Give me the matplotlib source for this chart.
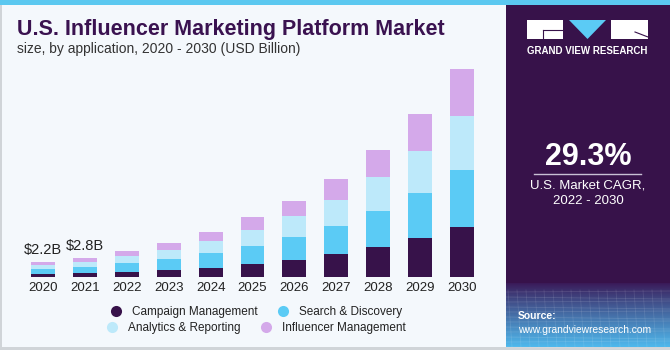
import numpy as np
import matplotlib
matplotlib.use("Agg")
import matplotlib.pyplot as plt
from matplotlib.patches import Rectangle, Polygon
from matplotlib.lines import Line2D

# ---- data (USD Billion) ----
years = ["2020", "2021", "2022", "2023", "2024", "2025", "2026", "2027", "2028", "2029", "2030"]
campaign = [0.40, 0.61, 0.77, 1.02, 1.35, 1.93, 2.47, 3.38, 4.31, 5.61, 7.25]
search = [0.75, 0.81, 1.31, 1.64, 2.18, 2.57, 3.34, 4.06, 5.26, 6.61, 8.27]
analytics = [0.65, 0.81, 0.97, 1.26, 1.70, 2.28, 3.00, 3.77, 4.93, 6.09, 7.87]
influencer = [0.40, 0.57, 0.73, 1.02, 1.35, 1.89, 2.26, 3.05, 3.87, 5.28, 6.73]
series_names = ["Campaign Management", "Search & Discovery", "Analytics & Reporting", "Influencer Management"]
annot_labels = ["$2.2B", "$2.8B"]
cagr_text = "29.3%"

colors = ["#37124A", "#5BCBF5", "#BDE9FA", "#D4A9EA"]
BG = "#F4F8FC"
PURPLE = "#37124A"

W, H = 670, 350
fig = plt.figure(figsize=(W / 100, H / 100), dpi=100)
fig.patch.set_facecolor(BG)

# ---- decoration layer in pixel coordinates ----
deco = fig.add_axes([0, 0, 1, 1], zorder=0)
deco.set_xlim(0, W)
deco.set_ylim(H, 0)
deco.axis("off")
deco.add_patch(Rectangle((0, 0), W, 5, color="#5BC8F0", lw=0))
deco.add_patch(Rectangle((0, 5), 2, H - 5, color="#D0D4D8", lw=0))
deco.add_patch(Rectangle((0, 347), W, 3, color="#D0D4D8", lw=0))
deco.add_patch(Rectangle((506, 5), W - 506, 342, color=PURPLE, lw=0))
# gradient at bottom of right panel
grad = np.linspace(0, 1, 100)[:, None] ** 0.9
c0 = np.array(matplotlib.colors.to_rgb("#3A1A58"))
c1 = np.array(matplotlib.colors.to_rgb("#4FB8EC"))
img = c0[None, None, :] * (1 - grad[..., None]) + c1[None, None, :] * grad[..., None]
img = np.repeat(img, 2, axis=1)
deco.imshow(img, extent=[506, W, 347, 283], aspect="auto", zorder=1)
# faint grid texture
for i in range(12):
    yy = 292 + i * 5
    deco.plot([506, W], [yy, yy + (2 if i % 2 else -1)], color="white", alpha=0.12, lw=0.6, zorder=2)
for xx in np.arange(508, W, 9):
    deco.plot([xx, xx + 4], [290, 347], color="white", alpha=0.10, lw=0.6, zorder=2)
deco.set_xlim(0, W)
deco.set_ylim(H, 0)

# logo
deco.add_patch(Rectangle((527, 20), 36, 19, color="white", lw=0, zorder=3))
deco.plot([543, 563], [30, 30], color=PURPLE, lw=0.8, zorder=4)
deco.plot([543, 543], [30, 39], color=PURPLE, lw=0.8, zorder=4)
deco.add_patch(Polygon([[569, 20], [606, 20], [587.5, 39]], closed=True, color="#5BCBF5", lw=0, zorder=3))
deco.add_patch(Rectangle((611, 20), 37, 19, color="white", lw=0, zorder=3))
deco.plot([635, 648], [32, 37], color=PURPLE, lw=0.8, zorder=4)
deco.text(587.5, 51, "GRAND VIEW RESEARCH", color="white", fontsize=7.0, fontweight="bold",
          ha="center", va="center", family="Liberation Sans", zorder=3)

# CAGR
deco.text(588, 157, cagr_text, color="white", fontsize=22, fontweight="bold",
          ha="center", va="center", family="Liberation Sans", zorder=3)
deco.plot([534, 641], [173.5, 173.5], color="#C8C0D4", lw=1, zorder=3)
deco.text(588, 185, "U.S. Market CAGR,", color="white", fontsize=9.5,
          ha="center", va="center", family="Liberation Sans", zorder=3)
deco.text(588, 201, "2022 - 2030", color="white", fontsize=9.5,
          ha="center", va="center", family="Liberation Sans", zorder=3)
deco.text(518, 316, "Source:", color="white", fontsize=7.5, fontweight="bold",
          ha="left", va="center", family="Liberation Sans", zorder=3)
deco.text(518, 330, "www.grandviewresearch.com", color="white", fontsize=7.4,
          ha="left", va="center", family="Liberation Sans", zorder=3)

# title
deco.text(17, 35.5, "U.S. Influencer Marketing Platform Market", color="#3A1250",
          fontsize=15.5, fontweight="heavy", ha="left", va="baseline", family="Liberation Sans", zorder=3)
deco.text(17, 53, "size, by application, 2020 - 2030 (USD Billion)", color="#333333",
          fontsize=10, ha="left", va="baseline", family="Liberation Sans", zorder=3)

# ---- main chart ----
ax = fig.add_axes([20 / W, 73 / H, 465 / W, 217 / H], zorder=2)
ax.set_facecolor("none")
x = np.arange(len(years))
bottom = np.zeros(len(years))
handles = []
for vals, col, name in zip([campaign, search, analytics, influencer], colors, series_names):
    ax.bar(x, vals, width=0.57, bottom=bottom, color=col, edgecolor="none", label=name)
    bottom += np.array(vals)
    handles.append(Line2D([], [], marker="o", linestyle="none", markersize=8,
                          markerfacecolor=col, markeredgecolor="none", label=name))
totals = bottom
for i, lab in enumerate(annot_labels):
    ax.annotate(lab, (x[i], totals[i]), xytext=(0, 3.5), textcoords="offset points",
                ha="center", va="bottom", fontsize=10.5, color="#222222", family="Liberation Sans")

ax.set_xlim(-0.55, len(years) - 0.45)
ax.set_ylim(0, 217 * 0.145)
ax.set_xticks(x)
ax.set_xticklabels(years, fontsize=9.5, color="#222222", family="Liberation Sans")
ax.tick_params(axis="x", length=0, pad=3.5)
ax.set_yticks([])
for s in ax.spines.values():
    s.set_visible(False)

leg_kw = dict(ncol=2, frameon=False, handletextpad=0.35, columnspacing=1.2,
              borderaxespad=0, prop={"family": "Liberation Sans", "size": 8.5})
leg1 = fig.legend(handles=handles[:2], loc="center", bbox_to_anchor=(253 / W, 1 - 312 / H), **leg_kw)
leg2 = fig.legend(handles=handles[2:], loc="center", bbox_to_anchor=(253 / W, 1 - 328 / H), **leg_kw)
for lg in (leg1, leg2):
    for t in lg.get_texts():
        t.set_color("#222222")

fig.savefig("out.png", dpi=100, facecolor=fig.get_facecolor())
